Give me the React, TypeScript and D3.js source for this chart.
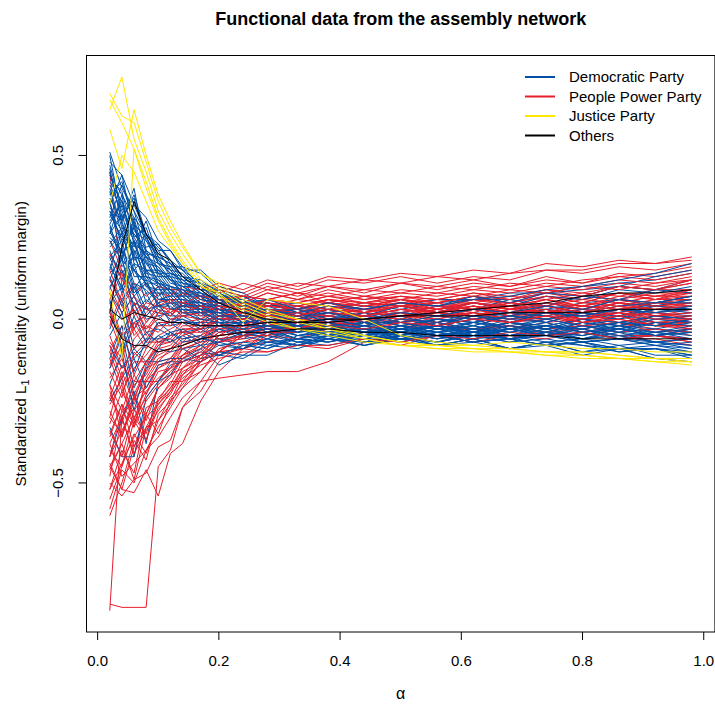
import React from 'react';
import * as d3 from 'd3';

// alpha grid the curves are sampled on
const alpha = [0.02, 0.04, 0.06, 0.08, 0.10, 0.12, 0.14, 0.17, 0.20, 0.24, 0.28, 0.33, 0.38, 0.44, 0.50, 0.56, 0.62, 0.68, 0.74, 0.80, 0.86, 0.92, 0.98];

// standardized L1 centrality per member
const democratic: number[][] = [
  [.51,.40,.33,.26,.23,.17,.15,.11,.09, .05,.05,.02,.03,.01,.02,.01,.03,.04,.03,.05,.06,.05,.07],
  [.48,.44,.35,.31,.24,.21,.16,.14,.09, .07,.03,.03,.00,.01,-.01,.00,-.01,.01,.02,.01,.03,.04,.03],
  [.45,.30,.38,.26,.22,.18,.15,.09,.08, .04,.04,.01,.01,-.01,-.01,-.03,-.01,-.02,.00,.01,.00,.02,.01],
  [.42,.36,.29,.25,.19,.17,.12,.11,.07, .07,.04,.05,.03,.05,.04,.06,.06,.08,.08,.10,.11,.12,.14],
  [.40,.28,.26,.21,.18,.14,.13,.08,.06, .02,.02,-.01,-.01,-.03,-.02,-.04,-.03,-.05,-.04,-.06,-.05,-.07,-.08],
  [.38,.42,.29,.25,.18,.15,.11,.09,.04, .04,.01,.01,-.02,-.01,-.03,-.01,-.03,-.02,-.03,-.02,-.04,-.03,-.04],
  [.36,.22,.28,.19,.17,.12,.11,.06,.05, .01,.01,-.02,-.02,-.04,-.03,-.05,-.04,-.05,-.04,-.06,-.05,-.07,-.06],
  [.34,.30,.18,.21,.13,.13,.08,.07,.03, .02,-.01,-.01,-.03,-.02,-.04,-.02,-.03,-.01,-.02,.00,-.01,.01,.02],
  [.32,.25,.23,.15,.14,.09,.09,.04,.03, -.01,-.01,-.04,-.03,-.05,-.04,-.06,-.05,-.07,-.06,-.08,-.09,-.09,-.12],
  [.30,.35,.25,.19,.14,.12,.08,.08,.04, .04,.02,.03,.02,.04,.03,.05,.06,.06,.08,.09,.10,.13,.15],
  [.28,.20,.24,.14,.13,.08,.08,.03,.03, -.01,.00,-.03,-.02,-.04,-.03,-.05,-.03,-.04,-.02,-.03,-.01,-.02,.00],
  [.26,.32,.19,.18,.10,.09,.05,.05,.00, .00,-.03,-.02,-.04,-.03,-.05,-.04,-.06,-.05,-.07,-.06,-.08,-.07,-.09],
  [.24,.18,.15,.11,.11,.06,.06,.02,.02, -.02,-.02,-.05,-.03,-.05,-.02,-.04,-.01,-.03,.00,-.02,.01,.00,.01],
  [.22,.26,.15,.11,.07,.10,.05,.03,-.01, -.01,-.04,-.03,-.06,-.04,-.07,-.05,-.07,-.06,-.08,-.07,-.09,-.08,-.10],
  [.20,.14,.19,.12,.10,.05,.05,.01,.01, -.02,-.01,-.03,-.01,-.02,.00,-.01,.02,.01,.04,.02,.05,.04,.06],
  [.18,.22,.11,.09,.05,.06,.02,.02,-.02, -.01,-.04,-.02,-.05,-.03,-.06,-.03,-.05,-.02,-.04,-.01,-.03,.00,-.01],
  [.16,.10,.15,.08,.08,.03,.03,-.01,-.01, -.04,-.03,-.06,-.04,-.07,-.05,-.08,-.06,-.09,-.07,-.10,-.09,-.12,-.12],
  [.14,.18,.07,.11,.04,.04,.01,.02,-.02, -.01,-.03,-.02,-.04,-.01,-.03,.00,-.02,.01,.00,.02,.01,.04,.03],
  [.12,.06,.11,.03,.04,.01,.01,-.02,-.01, -.05,-.04,-.06,-.05,-.07,-.06,-.08,-.06,-.09,-.07,-.08,-.10,-.09,-.11],
  [.10,.15,.04,.08,.01,.02,-.01,-.01,-.04, -.03,-.05,-.03,-.05,-.02,-.04,-.02,-.03,-.01,-.03,.00,-.02,.01,.00],
  [.08,.02,.07,.00,.01,-.02,-.01,-.04,-.03, -.06,-.05,-.07,-.06,-.08,-.06,-.07,-.05,-.07,-.04,-.06,-.04,-.05,-.03],
  [.05,.10,-.03,.04,-.02,-.01,-.04,-.03,-.06, -.05,-.07,-.06,-.07,-.05,-.06,-.04,-.05,-.03,-.04,-.02,-.03,-.01,-.02],
  [.02,-.05,.05,-.04,-.03,-.05,-.04,-.07,-.06, -.08,-.07,-.08,-.06,-.08,-.05,-.07,-.05,-.06,-.04,-.06,-.03,-.05,-.04],
  [-.03,.06,-.09,-.04,-.07,-.06,-.09,-.08,-.11, -.08,-.09,-.06,-.07,-.04,-.05,-.02,-.03,.00,-.01,.02,.01,.03,.04],
  [-.08,-.15,-.09,-.13,-.09,-.10,-.09,-.12,-.11, -.12,-.08,-.09,-.06,-.07,-.04,-.06,-.03,-.05,-.02,-.04,-.02,-.03,-.01],
  [-.15,-.05,-.21,-.13,-.13,-.12,-.12,-.09,-.14, -.11,-.11,-.07,-.08,-.06,-.07,-.04,-.06,-.03,-.05,-.03,-.06,-.04,-.06],
  [-.25,-.18,-.12,-.21,-.14,-.13,-.13,-.11,-.08, -.09,-.06,-.08,-.05,-.07,-.05,-.08,-.06,-.09,-.07,-.10,-.08,-.11,-.11],
  [-.33,-.42,-.42,-.24,-.19,-.14,-.13,-.10,-.11, -.08,-.09,-.05,-.06,-.03,-.05,-.02,-.04,-.01,-.03,.00,-.02,.01,.00],
  [-.42,-.30,-.22,-.38,-.19,-.17,-.12,-.13,-.10, -.11,-.07,-.08,-.06,-.07,-.05,-.07,-.04,-.06,-.04,-.05,-.03,-.05,-.03],
  [.44,.38,.31,.26,.21,.21,.15,.15,.10, .08,.04,.04,.01,.03,.02,.04,.03,.06,.04,.07,.06,.09,.08],
  [.37,.30,.40,.21,.18,.14,.12,.07,.07, .03,.03,.00,.01,.00,.02,.01,.03,.02,.05,.03,.06,.04,.06],
  [.33,.27,.20,.26,.14,.14,.09,.08,.03, .03,-.01,.00,-.03,-.01,-.04,-.02,-.05,-.03,-.05,-.04,-.06,-.05,-.06],
  [.29,.36,.23,.20,.15,.13,.07,.07,.02, .02,-.01,.00,-.02,-.01,-.03,.00,-.02,.01,-.01,.02,.00,.03,.03],
  [.27,.19,.29,.13,.11,.10,.08,.04,.04, .01,.02,.00,.03,.01,.04,.02,.05,.04,.07,.06,.09,.08,.10],
  [.25,.21,.15,.19,.11,.09,.06,.05,.01, .01,-.02,-.02,-.05,-.03,-.06,-.05,-.07,-.06,-.08,-.07,-.10,-.09,-.11],
  [.23,.28,.21,.13,.12,.08,.04,.04,.00, .00,-.03,-.02,-.05,-.04,-.05,-.03,-.04,-.02,-.04,-.01,-.03,-.01,-.01],
  [.21,.12,.20,.10,.09,.09,.07,.02,.03, -.01,-.01,-.05,-.04,-.06,-.04,-.06,-.04,-.05,-.03,-.05,-.02,-.04,-.03],
  [.19,.24,.09,.15,.06,.06,.03,.03,-.01, -.01,-.04,-.03,-.05,-.02,-.04,-.01,-.03,-.01,-.02,.00,-.01,.01,.00],
  [.17,.08,.17,.05,.10,.03,.04,.00,.00, -.04,-.03,-.06,-.04,-.05,-.03,-.04,-.02,-.05,-.03,-.06,-.04,-.07,-.06],
  [.35,.44,.27,.24,.17,.15,.10,.10,.06, .06,.02,.03,.00,.02,-.01,.01,.00,.02,.01,.03,.02,.05,.05],
  [.47,.34,.26,.22,.23,.18,.13,.11,.06, .05,.01,.01,-.02,-.01,-.03,-.02,-.04,-.03,-.05,-.02,-.04,-.01,-.02],
  [.13,.04,.10,.01,.05,-.01,.00,-.03,-.02, -.05,-.04,-.07,-.05,-.08,-.06,-.08,-.07,-.09,-.08,-.11,-.09,-.12,-.13],
  [.39,.26,.35,.26,.21,.15,.14,.09,.09, .04,.05,.02,.04,.03,.05,.04,.07,.05,.08,.07,.10,.09,.12],
  [.06,-.10,.01,-.07,-.01,-.04,-.03,-.06,-.03, -.05,-.02,-.04,-.01,-.03,.00,-.02,.01,-.01,.02,.01,.03,.02,.03],
  [-.20,-.10,-.28,-.15,-.09,-.04,-.07,-.06,-.07, -.04,-.06,-.03,-.05,-.03,-.04,-.02,-.04,-.01,-.03,-.01,-.02,.00,-.01],
  [.50,.31,.37,.24,.20,.16,.16,.10,.07, .06,.02,.02,-.01,.00,-.02,.00,-.01,.01,.00,.02,.01,.03,.02],
  [.43,.39,.25,.28,.17,.16,.11,.10,.05, .05,.01,.02,-.01,.01,-.02,.00,-.01,.01,.03,.02,.04,.05,.07],
  [.31,.41,.33,.20,.19,.13,.12,.08,.06, .03,.03,.00,.02,-.01,.01,-.02,.00,-.03,-.01,-.04,-.02,-.05,-.04],
  [.29,.16,.21,.17,.12,.10,.09,.05,.04, .00,.01,-.02,-.01,-.04,-.02,-.05,-.03,-.06,-.04,-.07,-.06,-.08,-.07],
  [.15,.27,.13,.13,.08,.08,.04,.04,.01, .01,-.02,-.01,-.03,-.02,-.04,-.02,-.04,-.03,-.05,-.03,-.05,-.04,-.05],
  [.36,.18,.31,.17,.16,.11,.10,.06,.05, .02,.02,-.01,.00,-.02,-.01,-.03,-.02,-.04,-.02,-.03,-.01,-.02,.00],
  [.09,.19,.02,.06,.03,.00,.00,-.02,-.02, -.04,-.03,-.05,-.04,-.06,-.05,-.07,-.05,-.06,-.04,-.05,-.03,-.04,-.02],
  [.41,.33,.24,.19,.16,.12,.10,.07,.05, .02,.03,.01,.02,.00,.02,.01,.03,.02,.04,.03,.06,.05,.07],
  [.26,.38,.17,.15,.11,.07,.07,.03,.02, -.01,.00,-.03,-.02,-.04,-.03,-.05,-.04,-.06,-.05,-.07,-.06,-.07,-.08],
  [-.05,.02,-.12,-.08,-.05,-.07,-.05,-.08,-.07, -.09,-.06,-.08,-.05,-.06,-.04,-.05,-.03,-.04,-.02,-.03,-.01,-.02,.00],
  [.19,.09,.24,.10,.06,.07,.03,.02,.00, -.02,-.02,-.04,-.03,-.05,-.03,-.05,-.04,-.06,-.05,-.07,-.06,-.08,-.09],
  [.33,.24,.30,.15,.15,.10,.09,.05,.03, .01,.00,-.02,.00,-.02,.00,-.01,.01,.00,.02,.01,.03,.02,.04],
  [.12,.21,.08,.12,.04,.05,.02,.00,-.01, -.03,-.02,-.04,-.02,-.04,-.02,-.03,-.01,-.03,-.02,-.04,-.03,-.05,-.04],
  [-.12,-.02,-.16,-.06,-.06,-.04,-.06,-.05,-.08, -.07,-.08,-.06,-.07,-.05,-.06,-.05,-.07,-.06,-.08,-.07,-.09,-.09,-.10],
  [.46,.29,.22,.30,.19,.17,.13,.12,.08, .05,.06,.03,.05,.03,.05,.04,.06,.07,.09,.10,.12,.14,.17],
];

const peoplePower: number[][] = [
  [.45,.10,.05,.03,.02,.05,.04,.06,.05, .07,.06,.08,.05,.07,.05,.06,.05,.07,.06,.08,.07,.09,.09],
  [.24,.15,.08,.11,.05,.08,.07,.10,.08, .11,.09,.11,.10,.12,.11,.13,.12,.14,.15,.15,.17,.17,.19],
  [.10,.02,.07,-.01,.04,.03,.06,.05,.07, .06,.09,.07,.10,.08,.11,.09,.11,.10,.12,.11,.14,.13,.15],
  [.05,-.05,-.01,.01,.05,.02,.05,.04,.06, .04,.05,.03,.05,.02,.04,.02,.03,.01,.02,.00,.01,-.01,-.01],
  [.00,-.10,-.03,-.09,-.01,-.01,.03,.02,.05, .03,.06,.04,.06,.05,.07,.06,.08,.07,.09,.08,.10,.09,.11],
  [-.05,-.15,-.11,-.07,-.07,-.05,-.01,-.01,.03, .02,.04,.03,.05,.03,.05,.02,.04,.02,.03,.01,.03,.00,.01],
  [-.10,-.20,-.13,-.13,-.08,-.07,-.03,-.03,.01, .00,.03,.01,.04,.02,.04,.03,.05,.03,.06,.04,.06,.05,.06],
  [-.15,-.08,-.23,-.15,-.13,-.09,-.07,-.02,-.02, .02,.01,.04,.02,.03,.01,.02,.00,.01,-.01,.00,-.02,-.01,-.03],
  [-.20,-.28,-.17,-.23,-.14,-.13,-.08,-.06,-.01, -.01,.02,.01,.03,.01,.04,.02,.05,.03,.05,.04,.06,.05,.07],
  [-.25,-.18,-.31,-.19,-.19,-.13,-.11,-.06,-.05, -.01,-.01,.02,.00,.02,.01,.03,.01,.02,.00,.02,-.01,.01,-.01],
  [-.30,-.35,-.24,-.29,-.21,-.17,-.11,-.09,-.04, -.03,.00,-.01,.02,.00,.02,-.01,.01,-.01,.00,-.02,-.01,-.03,-.04],
  [-.35,-.26,-.39,-.29,-.21,-.17,-.15,-.09,-.07, -.02,-.02,.01,-.01,.02,.01,.04,.02,.05,.04,.07,.06,.08,.08],
  [-.40,-.45,-.31,-.37,-.27,-.23,-.16,-.13,-.07, -.05,-.01,-.02,.01,-.01,.01,-.02,.00,-.03,-.01,-.04,-.03,-.05,-.06],
  [-.45,-.38,-.49,-.33,-.31,-.24,-.20,-.13,-.10, -.04,-.04,-.01,-.02,.00,-.01,.01,.00,.02,.01,.03,.02,.04,.04],
  [-.50,-.54,-.49,-.47,-.39,-.37,-.27,-.19,-.11, -.09,-.04,-.04,-.01,-.02,.00,-.01,.01,.00,.02,-.01,.01,-.02,-.01],
  [-.45,-.52,-.53,-.46,-.54,-.41,-.38,-.25,-.16, -.09,-.07,-.03,-.04,-.01,-.03,-.01,-.04,-.02,-.05,-.04,-.06,-.06,-.08],
  [-.87,-.88,-.88,-.88,-.45,-.40,-.27,-.22,-.13, -.07,-.06,-.02,-.03,.00,-.01,.02,.01,.03,.02,.04,.03,.05,.05],
  [-.89,-.30,-.24,-.21,-.15,-.13,-.09,-.07,-.03, -.03,.01,.00,.03,.01,.03,.02,.04,.02,.05,.03,.05,.04,.05],
  [-.55,-.45,-.35,-.41,-.31,-.26,-.19,-.16,-.10, -.09,-.05,-.06,-.03,-.04,-.01,-.02,.01,-.01,.02,.00,.03,.01,.03],
  [-.48,-.30,-.42,-.27,-.25,-.19,-.19,-.12,-.10, -.05,-.05,-.01,-.02,.01,.00,.03,.01,.04,.02,.05,.04,.06,.06],
  [-.38,-.48,-.44,-.40,-.36,-.30,-.24,-.19,-.18, -.17,-.16,-.16,-.13,-.07,-.05,-.02,-.04,-.01,-.03,-.02,-.04,-.03,-.05],
  [-.32,-.22,-.30,-.24,-.19,-.15,-.13,-.11,-.10, -.09,-.10,-.08,-.09,-.06,-.08,-.05,-.07,-.05,-.06,-.04,-.06,-.05,-.07],
  [-.22,-.32,-.19,-.19,-.13,-.12,-.07,-.06,-.02, -.02,.02,.01,.04,.03,.05,.04,.06,.05,.07,.06,.08,.07,.09],
  [-.12,-.22,-.15,-.11,-.06,-.06,-.02,-.02,.02, .01,.04,.03,.06,.04,.06,.05,.07,.05,.08,.06,.08,.07,.08],
  [-.02,.08,-.05,-.01,.03,.02,.04,.03,.05, .04,.06,.05,.07,.05,.06,.04,.05,.03,.04,.02,.03,.01,.01],
  [.15,.05,.11,.07,.10,.09,.09,.07,.10, .08,.11,.09,.12,.11,.13,.11,.13,.12,.15,.14,.16,.15,.17],
  [.08,.00,.03,-.05,.02,.01,.04,.03,.06, .05,.08,.06,.09,.07,.09,.08,.10,.09,.11,.10,.12,.11,.13],
  [-.07,-.12,-.01,-.07,-.02,-.02,.01,.00,.03, .02,.05,.03,.05,.04,.06,.03,.05,.03,.04,.02,.04,.01,.02],
  [-.18,-.12,-.24,-.16,-.09,-.08,-.04,-.04,.00, .00,.03,.02,.04,.02,.05,.03,.06,.04,.07,.05,.08,.06,.08],
  [-.28,-.36,-.23,-.31,-.21,-.18,-.12,-.10,-.05, -.04,.00,-.01,.02,.01,.03,.02,.04,.01,.03,.00,.02,-.01,.00],
  [-.42,-.34,-.27,-.37,-.25,-.21,-.15,-.12,-.06, -.05,-.01,-.02,.01,-.01,.02,.00,.02,-.01,.01,-.02,-.01,-.04,-.03],
  [-.52,-.40,-.47,-.29,-.35,-.25,-.21,-.13,-.10, -.05,-.05,-.02,-.03,.00,-.02,-.01,-.03,-.02,-.04,-.03,-.05,-.05,-.07],
  [-.60,-.50,-.37,-.43,-.29,-.25,-.17,-.13,-.07, -.06,-.02,-.03,.00,-.01,.01,.00,.03,.01,.04,.02,.05,.03,.05],
  [.02,-.08,.05,-.03,.02,.01,.05,.04,.07, .05,.08,.06,.08,.06,.07,.05,.07,.04,.06,.03,.05,.02,.03],
  [-.14,-.04,-.09,-.06,-.01,-.01,.02,.01,.04, .03,.05,.04,.06,.04,.06,.05,.07,.06,.08,.07,.10,.09,.11],
  [-.24,-.14,-.19,-.13,-.07,-.07,-.03,-.03,.01, .01,.04,.03,.05,.03,.04,.02,.03,.01,.03,.00,.02,-.01,-.01],
  [-.36,-.26,-.32,-.23,-.16,-.15,-.09,-.07,-.02, -.02,.02,.01,.03,.02,.04,.02,.05,.03,.05,.03,.06,.04,.05],
  [.20,.12,.07,.03,.08,.07,.10,.09,.11, .09,.12,.10,.13,.12,.14,.13,.15,.14,.17,.16,.18,.17,.18],
  [-.44,-.52,-.39,-.33,-.26,-.22,-.15,-.11,-.05, -.04,.00,-.01,.02,.00,.02,.01,.02,.00,.01,-.01,.00,-.02,-.02],
  [.12,.04,-.03,.02,.06,.05,.08,.06,.09, .07,.10,.08,.10,.09,.11,.10,.12,.10,.13,.11,.13,.12,.14],
  [-.30,-.16,-.26,-.18,-.12,-.10,-.06,-.05,.00, .01,.03,.02,.05,.03,.06,.04,.06,.05,.07,.05,.08,.06,.07],
  [-.42,-.28,-.33,-.25,-.20,-.16,-.12,-.08,-.03, -.02,.01,.00,.02,.01,.03,.01,.02,.00,.02,-.01,.01,-.02,-.02],
  [-.20,-.36,-.25,-.14,-.11,-.09,-.05,-.03,.01, .02,.04,.03,.05,.04,.05,.03,.05,.04,.06,.04,.07,.06,.09],
  [-.10,-.02,-.17,-.09,-.05,-.03,-.01,.00,.03, .02,.05,.03,.06,.05,.07,.06,.08,.06,.09,.07,.10,.09,.12],
  [-.52,-.44,-.36,-.30,-.26,-.21,-.17,-.11,-.07, -.05,-.03,-.03,-.01,-.02,.00,-.02,.00,-.01,.01,-.01,.00,-.02,-.03],
  [.06,.14,.01,.05,.04,.06,.05,.07,.06, .07,.06,.08,.07,.09,.08,.10,.09,.11,.10,.12,.13,.14,.16],
  [-.34,-.42,-.28,-.22,-.18,-.15,-.11,-.08,-.04, -.03,.00,.00,.02,.01,.03,.02,.04,.03,.04,.02,.04,.03,.04],
  [-.16,-.24,-.10,-.14,-.08,-.05,-.04,-.01,.01, .02,.02,.04,.03,.05,.04,.05,.03,.04,.02,.03,.01,.02,.00],
  [-.26,-.20,-.33,-.19,-.15,-.12,-.08,-.05,-.02, .00,.01,.02,.01,.03,.02,.04,.03,.05,.04,.06,.05,.07,.07],
  [-.46,-.38,-.30,-.35,-.24,-.20,-.13,-.11,-.05, -.04,-.02,.00,-.01,.01,.00,.02,.01,.03,.02,.04,.03,.05,.04],
  [.03,-.06,-.01,-.03,.00,.03,.02,.04,.03, .05,.04,.06,.05,.07,.06,.08,.07,.09,.08,.10,.09,.11,.12],
  [-.38,-.30,-.41,-.34,-.28,-.22,-.18,-.14,-.12, -.10,-.10,-.08,-.08,-.06,-.07,-.05,-.06,-.04,-.05,-.04,-.06,-.05,-.06],
  [-.08,-.18,-.06,-.02,-.04,.00,.01,.02,.04, .03,.06,.05,.07,.06,.08,.07,.09,.08,.10,.09,.11,.10,.12],
  [-.58,-.46,-.50,-.40,-.33,-.27,-.21,-.16,-.09, -.07,-.04,-.04,-.02,-.03,-.01,-.02,.00,-.01,.01,.00,.02,.01,.02],
  [-.24,-.30,-.20,-.17,-.10,-.09,-.05,-.03,.00, .00,.02,.01,.03,.02,.04,.03,.04,.02,.03,.01,.02,.00,.00],
];

const justice: number[][] = [
  [.69,.62,.60,.48,.36,.28,.22,.14,.10, .05,.02,.00,-.03,-.05,-.07,-.08,-.09,-.10,-.10,-.11,-.12,-.12,-.13],
  [.64,.74,.55,.45,.33,.26,.20,.12,.09, .04,.01,-.01,-.03,-.06,-.08,-.09,-.10,-.10,-.11,-.12,-.12,-.13,-.14],
  [.58,.46,.64,.50,.38,.30,.23,.14,.11, .06,.03,.00,-.02,-.05,-.07,-.08,-.09,-.10,-.11,-.11,-.12,-.13,-.13],
  [.67,.60,.52,.42,.31,.24,.18,.11,.08, -.01,.06,.05,.04,.00,-.05,-.07,-.08,-.09,-.10,-.10,-.11,-.12,-.12],
  [.35,.50,.45,.36,.27,.22,.17,.10,.07, .03,.00,-.03,-.05,-.07,-.08,-.09,-.09,-.09,-.10,-.10,-.11,-.12,-.12],
  [.09,-.12,.52,.40,.30,.23,.17,.10,.08, .02,-.01,-.03,-.04,-.06,-.08,-.08,-.08,-.07,-.08,-.09,-.09,-.10,-.10],
];

const others: number[][] = [
  [.02,.22,.36,.26,.20,.18,.13,.09,.05, .02,.00,-.01,-.01,.00,.01,.02,.03,.04,.05,.07,.08,.08,.09],
  [.01,-.06,-.08,-.08,-.10,-.09,-.08,-.06,-.05, -.04,-.04,-.03,-.03,-.04,-.04,-.05,-.05,-.05,-.05,-.06,-.06,-.06,-.06],
  [.03,.00,.02,.01,.00,-.01,-.01,-.02,-.02, -.02,-.01,-.01,.00,.00,.01,.01,.01,.02,.02,.02,.03,.03,.03],
];

const legendLabels = ['Democratic Party', 'People Power Party', 'Justice Party', 'Others'];
const partyColors = ['#0050A5', '#E61E2B', '#FFE800', '#000000'];
const xTicks = [0, 0.2, 0.4, 0.6, 0.8, 1.0];
const yTicks = [-0.5, 0, 0.5];

const width = 715;
const height = 704;
const margin = { top: 55.5, right: 0.1, bottom: 72, left: 86.5 };
const font = '"Liberation Sans", Arial, Helvetica, sans-serif';

export default function App() {
  const all = [democratic, peoplePower, justice, others].flat(2);
  const [ymin, ymax] = d3.extent(all) as [number, number];
  const [amin, amax] = d3.extent(alpha) as [number, number];
  // R style 4% padding
  const padX = (amax - amin) * 0.04;
  const padY = (ymax - ymin) * 0.04;

  const x = d3.scaleLinear().domain([amin - padX, amax + padX]).range([margin.left, width - margin.right]);
  const y = d3.scaleLinear().domain([ymin - padY, ymax + padY]).range([height - margin.bottom, margin.top]);

  const line = d3.line<number>()
    .defined((_, i) => i < alpha.length)
    .x((_, i) => x(alpha[i]))
    .y(d => y(d));

  // mix the two big parties so neither sits fully on top
  const curves: { values: number[]; color: string }[] = [];
  const n = Math.max(democratic.length, peoplePower.length);
  for (let i = 0; i < n; i++) {
    if (democratic[i]) curves.push({ values: democratic[i], color: partyColors[0] });
    if (peoplePower[i]) curves.push({ values: peoplePower[i], color: partyColors[1] });
  }
  justice.forEach(v => curves.push({ values: v, color: partyColors[2] }));
  others.forEach(v => curves.push({ values: v, color: partyColors[3] }));

  const plotLeft = margin.left;
  const plotRight = width - margin.right;
  const plotTop = margin.top;
  const plotBottom = height - margin.bottom;
  const midX = (plotLeft + plotRight) / 2;
  const midY = (plotTop + plotBottom) / 2;

  return (
    <svg
      width={width}
      height={height}
      style={{ position: 'absolute', left: 0, top: 0, background: '#fff' }}
      fontFamily={font}
    >
      <g fill="none" strokeWidth={1} strokeLinejoin="round">
        {curves.map((c, i) => (
          <path key={i} d={line(c.values) || ''} stroke={c.color} />
        ))}
      </g>

      <rect x={plotLeft} y={plotTop} width={plotRight - plotLeft} height={plotBottom - plotTop}
        fill="none" stroke="#000" strokeWidth={1} />

      {/* x axis */}
      {xTicks.map(t => (
        <g key={t}>
          <line x1={x(t)} x2={x(t)} y1={plotBottom} y2={plotBottom + 8} stroke="#000" />
          <text x={x(t)} y={666} fontSize={15} textAnchor="middle">{t.toFixed(1)}</text>
        </g>
      ))}

      {/* y axis */}
      {yTicks.map(t => (
        <g key={t}>
          <line x1={plotLeft - 8} x2={plotLeft} y1={y(t)} y2={y(t)} stroke="#000" />
          <text transform={`translate(63,${y(t)}) rotate(-90)`} fontSize={15} textAnchor="middle">
            {t < 0 ? '\u2212' + Math.abs(t).toFixed(1) : t.toFixed(1)}
          </text>
        </g>
      ))}

      <text x={midX} y={25} fontSize={18} fontWeight="bold" textAnchor="middle">
        Functional data from the assembly network
      </text>
      <text x={midX} y={699} fontSize={16} textAnchor="middle">α</text>
      <text transform={`translate(26,${midY}) rotate(-90)`} fontSize={15} textAnchor="middle">
        <tspan>Standardized L</tspan>
        <tspan fontSize={11} dy={3}>1</tspan>
        <tspan dy={-3}> centrality (uniform margin)</tspan>
      </text>

      {/* legend */}
      {legendLabels.map((lab, i) => {
        const ly = 77 + i * 19.5;
        return (
          <g key={lab}>
            <line x1={525} x2={555} y1={ly} y2={ly} stroke={partyColors[i]} strokeWidth={2} />
            <text x={569} y={ly + 5} fontSize={15}>{lab}</text>
          </g>
        );
      })}
    </svg>
  );
}
